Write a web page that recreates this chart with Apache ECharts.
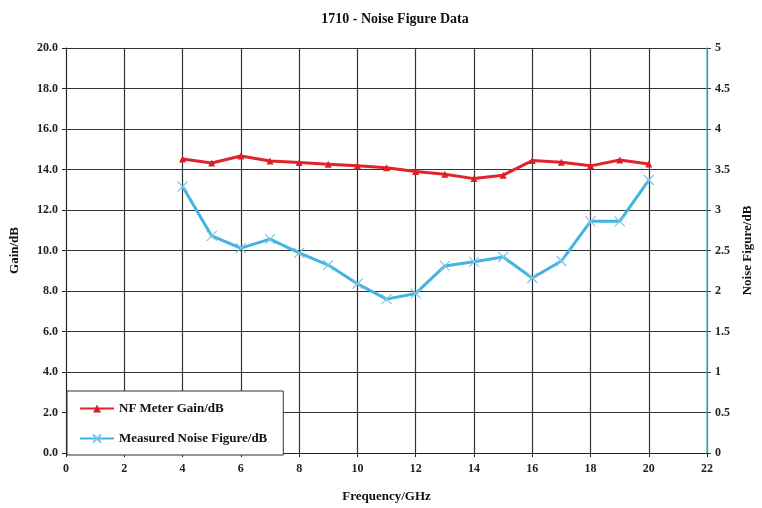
<!DOCTYPE html>
<html>
<head>
<meta charset="utf-8">
<script src="https://cdn.jsdelivr.net/npm/echarts@6/dist/echarts.min.js"></script>
<style>html,body{margin:0;padding:0;background:#fff}#c{width:762px;height:508px}</style>
</head>
<body>
<div id="c"></div>
<script>
var freq = [4, 5, 6, 7, 8, 9, 10, 11, 12, 13, 14, 15, 16, 17, 18, 19, 20];
var gain = [14.52, 14.32, 14.67, 14.42, 14.34, 14.26, 14.18, 14.09, 13.9, 13.77, 13.55, 13.72, 14.44, 14.36, 14.18, 14.47, 14.27];
var noiseFigure = [3.29, 2.68, 2.53, 2.64, 2.47, 2.32, 2.09, 1.9, 1.97, 2.31, 2.36, 2.42, 2.16, 2.37, 2.86, 2.86, 3.37];
var leftTicks = {min: 0, max: 20, interval: 2};
var rightTicks = {min: 0, max: 5, interval: 0.5};
var xTicks = {min: 0, max: 22, interval: 2};

var font = 'Liberation Serif';
var chart = echarts.init(document.getElementById('c'));
function pairs(xs, ys) { return xs.map(function (x, i) { return [x, ys[i]]; }); }
var gridLine = {show: true, lineStyle: {color: '#333', width: 1.2}};
var lbl = {fontFamily: font, fontWeight: 'bold', fontSize: 12, color: '#222'};
chart.setOption({
  animation: false,
  backgroundColor: '#fff',
  title: {
    text: '1710 - Noise Figure Data',
    left: 390, top: 7, textAlign: 'center',
    textStyle: {fontFamily: font, fontWeight: 'bold', fontSize: 14, color: '#111'}
  },
  grid: {left: 66, right: 49, top: 48, bottom: 55},
  legend: {
    orient: 'vertical', left: 67, top: 391,
    backgroundColor: '#fff', borderColor: '#333', borderWidth: 1,
    padding: [11, 16, 10, 12], itemGap: 17, itemWidth: 34, itemHeight: 10,
    textStyle: {fontFamily: font, fontWeight: 'bold', fontSize: 13, color: '#111'},
    data: ['NF Meter Gain/dB', 'Measured Noise Figure/dB']
  },
  xAxis: {
    type: 'value', min: xTicks.min, max: xTicks.max, interval: xTicks.interval,
    name: 'Frequency/GHz', nameLocation: 'middle', nameGap: 37,
    nameTextStyle: {fontFamily: font, fontWeight: 'bold', fontSize: 13, color: '#111'},
    axisLine: {show: true, lineStyle: {color: '#222', width: 1}},
    axisTick: {show: true, length: 4, lineStyle: {color: '#222'}},
    axisLabel: Object.assign({margin: 10}, lbl),
    splitLine: gridLine
  },
  yAxis: [{
    type: 'value', position: 'left', min: leftTicks.min, max: leftTicks.max, interval: leftTicks.interval,
    name: 'Gain/dB', nameLocation: 'middle', nameGap: 45, nameRotate: 90,
    nameTextStyle: {fontFamily: font, fontWeight: 'bold', fontSize: 13, color: '#111'},
    axisLine: {show: true, lineStyle: {color: '#222', width: 1}},
    axisTick: {show: true, length: 4, lineStyle: {color: '#222'}},
    axisLabel: Object.assign({margin: 8, formatter: function (v) { return v.toFixed(1); }}, lbl),
    splitLine: gridLine
  }, {
    type: 'value', position: 'right', min: rightTicks.min, max: rightTicks.max, interval: rightTicks.interval,
    name: 'Noise Figure/dB', nameLocation: 'middle', nameGap: 33, nameRotate: 90,
    nameTextStyle: {fontFamily: font, fontWeight: 'bold', fontSize: 13, color: '#111'},
    axisLine: {show: true, lineStyle: {color: '#5ab8dc', width: 1.5}},
    axisTick: {show: true, length: 4, lineStyle: {color: '#444'}},
    axisLabel: Object.assign({margin: 8}, lbl),
    splitLine: {show: false}
  }],
  series: [{
    name: 'NF Meter Gain/dB', type: 'line', yAxisIndex: 0,
    data: pairs(freq, gain),
    symbol: 'triangle', symbolSize: 7,
    lineStyle: {color: '#e0242a', width: 3},
    itemStyle: {color: '#d91f26'}
  }, {
    name: 'Measured Noise Figure/dB', type: 'line', yAxisIndex: 1,
    data: pairs(freq, noiseFigure),
    symbol: 'path://M0,0L10,10M10,0L0,10', symbolSize: 10,
    lineStyle: {color: '#42b4e2', width: 3},
    itemStyle: {color: '#42b4e2', borderColor: '#7cc6e6', borderWidth: 1.2}
  }]
});
</script>
</body>
</html>
